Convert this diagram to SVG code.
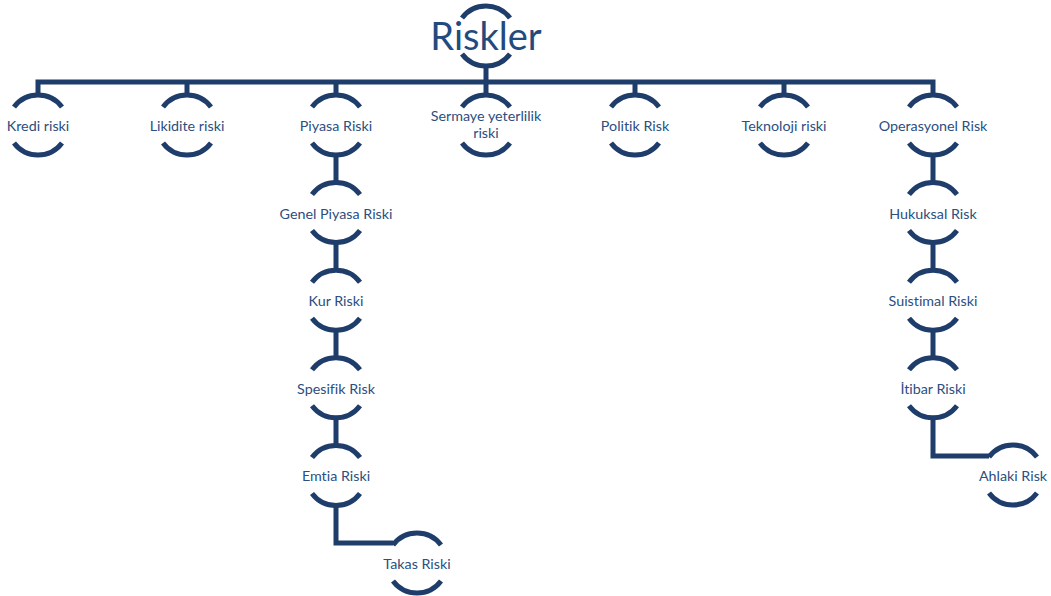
<svg xmlns="http://www.w3.org/2000/svg" width="1051" height="596" viewBox="0 0 1051 596">
<defs>
<style>
.ln{fill:none;stroke:#1F3D6B;stroke-width:5;stroke-linejoin:miter}
.arc{fill:none;stroke:#1F3D6B;stroke-width:5}
.t{font-family:Lato,"Liberation Sans",sans-serif;font-size:14.3px;fill:#2C4E80;text-anchor:middle;font-variant-ligatures:none}
.big{font-family:Lato,"Liberation Sans",sans-serif;font-size:38px;fill:#234A7E;text-anchor:middle}
</style>
<g id="nd">
<path class="arc" d="M-24,-18 A30,30 0 0 1 24,-18"/>
<path class="arc" d="M-24,18 A30,30 0 0 0 24,18"/>
</g>
</defs>
<rect width="1051" height="596" fill="#fff"/>
<g id="connectors">
<path class="ln" d="M486,65 V95"/>
<path class="ln" d="M38,95 V82 H933 V95"/>
<path class="ln" d="M187,82 V95 M336,82 V95 M635,82 V95 M784,82 V95"/>
<path class="ln" d="M336,155 V182.6 M336,242.6 V270.2 M336,330.2 V357.8 M336,417.8 V445.4"/>
<path class="ln" d="M336,505.4 V543 H393"/>
<path class="ln" d="M933,155 V182.6 M933,242.6 V270.2 M933,330.2 V357.8"/>
<path class="ln" d="M933,417.8 V456 H989"/>
</g>
<g id="n-riskler"><use href="#nd" x="486" y="36"/><text class="big" x="486" y="50">Riskler</text></g>
<g id="n-kredi"><use href="#nd" x="38" y="125"/><text class="t" x="38" y="131">Kredi riski</text></g>
<g id="n-likidite"><use href="#nd" x="187" y="125"/><text class="t" x="187" y="131">Likidite riski</text></g>
<g id="n-piyasa"><use href="#nd" x="336" y="125"/><text class="t" x="336" y="131">Piyasa Riski</text></g>
<g id="n-sermaye"><use href="#nd" x="486" y="125"/><text class="t" x="486" y="121">Sermaye yeterlilik</text><text class="t" x="486" y="138">riski</text></g>
<g id="n-politik"><use href="#nd" x="635" y="125"/><text class="t" x="635" y="131">Politik Risk</text></g>
<g id="n-teknoloji"><use href="#nd" x="784" y="125"/><text class="t" x="784" y="131">Teknoloji riski</text></g>
<g id="n-operasyonel"><use href="#nd" x="933" y="125"/><text class="t" x="933" y="131">Operasyonel Risk</text></g>
<g id="n-genel"><use href="#nd" x="336" y="212.6"/><text class="t" x="336" y="218.6">Genel Piyasa Riski</text></g>
<g id="n-kur"><use href="#nd" x="336" y="300.2"/><text class="t" x="336" y="306.2">Kur Riski</text></g>
<g id="n-spesifik"><use href="#nd" x="336" y="387.8"/><text class="t" x="336" y="393.8">Spesifik Risk</text></g>
<g id="n-emtia"><use href="#nd" x="336" y="475.4"/><text class="t" x="336" y="481.4">Emtia Riski</text></g>
<g id="n-takas"><use href="#nd" x="417" y="563"/><text class="t" x="417" y="569">Takas Riski</text></g>
<g id="n-hukuksal"><use href="#nd" x="933" y="212.6"/><text class="t" x="933" y="218.6">Hukuksal Risk</text></g>
<g id="n-suistimal"><use href="#nd" x="933" y="300.2"/><text class="t" x="933" y="306.2">Suistimal Riski</text></g>
<g id="n-itibar"><use href="#nd" x="933" y="387.8"/><text class="t" x="933" y="393.8">İtibar Riski</text></g>
<g id="n-ahlaki"><use href="#nd" x="1013" y="475"/><text class="t" x="1013" y="481">Ahlaki Risk</text></g>
</svg>
